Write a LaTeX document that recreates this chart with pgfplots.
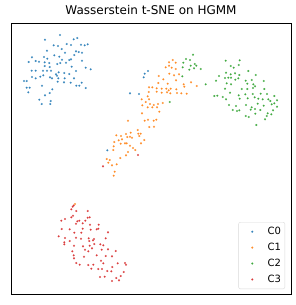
\documentclass[border=0pt]{standalone}
\usepackage{pgfplots}
\pgfplotsset{compat=1.18}
\usepackage{fontspec}
\setmainfont{DejaVu Sans}
\definecolor{c0}{HTML}{1F77B4}
\definecolor{c1}{HTML}{FF7F0E}
\definecolor{c2}{HTML}{2CA02C}
\definecolor{c3}{HTML}{D62728}
\begin{document}
\begin{tikzpicture}
\begin{axis}[
  scale only axis, width=280pt, height=271pt,
  xmin=11, xmax=291, ymin=23, ymax=294, y dir=reverse,
  xtick=\empty, ytick=\empty,
  axis line style={black, line width=0.8pt},
  title={\fontsize{12}{14}\selectfont Wasserstein t-SNE on HGMM},
  title style={yshift=-1.5pt},
  legend style={at={(0.979,0.018)}, anchor=south east, draw=black!15, rounded corners=2pt,
    fill=white, font=\fontsize{10}{12}\selectfont, row sep=3pt, inner xsep=2pt, inner ysep=3pt},
  legend cell align=left,
  legend image code/.code={\path[draw=none,fill=none] (0pt,-2pt) rectangle (25pt,2pt); \draw[#1] plot[mark=*] coordinates {(11.7pt,0pt)};},
  every axis plot/.append style={only marks, mark=*, mark size=0.95pt},
]
\addplot[c0, mark options={fill=c0, draw=c0!70!white, line width=0.2pt}] table {
60 35
73.7 39.3
77.3 38
45 39.7
53.7 45.3
58 46
66.7 44
71 45
81 44.7
84.7 45.3
87.7 44.3
61.7 49
76 51.3
47 50.7
65 52.7
74.3 55
78.7 52
82 52.7
54.3 55.3
59.3 56.7
44 57
47.3 58.7
32 57.3
62 59.7
69.3 60
66 62.7
71 59.3
82 60.7
28.7 62
35.7 61
39 61.7
44.7 62.3
49.3 63
57.3 64
60.3 63
44.7 66
71.7 66.7
49.7 67
85.7 67.7
90.7 69.3
31.7 70.7
35.7 70.7
43 70.7
47 70.7
51 70.7
76 71
58.7 72.3
64.3 73
69.3 74
56 74.3
43.3 75.3
40.3 76.7
57 75.7
32 77
35.7 78.3
50 77.3
52 78.3
58.3 78.3
64.7 78.3
74 78.3
57.7 81.7
64 82.3
24 81
26.7 81
81.7 82.7
70.7 82.7
42 85.7
76.3 85.7
79.3 85.7
26.7 87.7
29.7 87.7
85.7 88
52.3 89.3
28.3 92.3
49.7 93
45 95.3
39.3 99.7
50.7 101
41.7 104
50.3 104
148 71
144.7 73.7
143.7 77.3
130 93.3
139 94
107.3 150.3
};
\addlegendentry{C0}
\addplot[c1, mark options={fill=c1, draw=c1!70!white, line width=0.2pt}] table {
172.7 60
169 62.3
175.7 62.7
169 65.7
165.7 67.3
171.7 67.7
175.7 69
169.3 73.7
179 74.3
174 75.3
158.7 76
163.3 79.3
176 80.3
183.7 84.3
191 82.3
184.3 86.7
167.7 83.7
158.3 83
161.7 88.7
166.3 88.7
170.7 88.7
176.3 89.3
168.7 90.3
196.7 86
181.3 93.3
186.7 93.7
177 93
161.7 92.7
167 92.3
170.3 93.3
162.7 103
149 87.3
152.3 87.3
156.7 88.3
148.7 92
156.7 91.7
147.7 96.3
141.7 99.3
149 99.3
145.7 102
150 104
153.7 105
158 104
142.3 105.3
147.7 107.3
152.3 107.3
157 107.3
159.3 111.7
142 113.3
148 119.7
144.7 120.7
153.7 120.7
156.3 119.7
128 120.7
154 126.7
149.3 127
137.7 130
126 134
130.7 132.7
138.3 133.7
140.7 133.7
116.3 135.3
121 136
130 136.7
127.3 137
139.3 136
132 137.7
122 139.3
144.3 140
118.7 140.3
114.3 142
126.7 143.3
120.7 143.7
130 145.7
141 143.3
125 143.3
113.7 146.3
133 148
135.3 150
113.3 150
128 152
126 155.3
120.3 158
106.7 159
109.7 160
108.3 162.7
116.7 164.3
112 165.3
114.7 171.7
113.7 175.7
75 204
};
\addlegendentry{C1}
\addplot[c2, mark options={fill=c2, draw=c2!70!white, line width=0.2pt}] table {
193 54.7
186 59
190 60
194.7 64
196.3 65.7
183.3 62.7
190.7 65.7
194 68.3
189.3 69.7
200.7 69
182.7 67.3
182.3 76.3
205.7 84.3
214.3 96
169.7 102
225.7 60.7
239.7 60.3
238.7 65
230.7 66
233.7 67.7
248.3 71
255.7 75
219 76
226 72.7
230.7 74.3
235 73.3
239.3 75
225 78
228.3 77.7
231 77.7
235.3 79.7
238.3 78.3
216 80.7
226.7 83.3
231 84.3
245.7 80.7
251.7 80
247.3 83.7
253.3 84.3
255 86.3
263.7 81
225 88.7
241.7 89
247.3 89
253 88
264.3 89
230 92.7
238.7 95.3
245.3 94.3
252.7 94
260.7 93.7
267 94
217.3 95.7
222.7 97
226 99.3
239.7 98.7
247.7 98.3
254.7 97.3
258.3 98.7
262.7 99.3
268.3 99.3
274.3 96
270.3 101
277 100.3
229 105
236 106
246 105
257.7 103.7
251.7 107.3
263.7 105.7
271.7 104.3
274.3 103.3
277 106.7
232.7 110
237 111
239.3 110.3
250.7 109.7
255 109
260.3 110
273 110.3
255.3 113.7
267.7 113.3
245.7 116
248.7 117
266.7 116
271.3 114.3
265 119.3
256.3 125
};
\addlegendentry{C2}
\addplot[c3, mark options={fill=c3, draw=c3!70!white, line width=0.2pt}] table {
138 155
103 166.3
73.7 205.5
72.7 206.7
71.3 209.3
76.3 211
87.7 211
73 215.7
71.3 217.3
89.7 217.3
87.7 217.7
65 219
61.3 220.7
77.3 221.3
79.3 220.7
85.3 220.7
82.7 223.3
76 223.7
98.7 224.7
90 224.7
82.7 228.7
69.7 229.3
90.7 229.7
98.3 228.7
96.7 229.3
61.7 229
81.3 232.7
74.3 232.7
108 232.3
58.7 236.3
76 237.7
88.7 238.3
94 239
105.7 238.3
65 238
81 238.7
64.3 242.3
64.3 244.3
69.7 241
89.3 241
93 240.3
74 245.7
83 246.3
89.7 245.7
94.3 244
100.3 244.3
103.3 245.3
92 248.3
72.3 251.3
85 249.7
101.7 249.7
108 249.3
88.3 251.3
115.7 251
73.7 255.3
84 256.7
96.7 255.3
105.7 256
112 256.3
74 258.3
101 260.7
76.3 263
79.7 264.7
93.3 264.7
103.3 263.3
88.3 265
117.7 263.3
126 264.7
125 263
112.3 267
91.3 268.7
98.3 269
102 269
111.3 271.3
107.3 271
123.7 272
120.7 276
100 277
104.7 276.7
116.3 278
112 281
119 280.3
};
\addlegendentry{C3}
\end{axis}
\path[use as bounding box] ([shift={(-11pt,-11pt)}]current axis.south west) rectangle ([shift={(5pt,23pt)}]current axis.north east);
\end{tikzpicture}
\end{document}
